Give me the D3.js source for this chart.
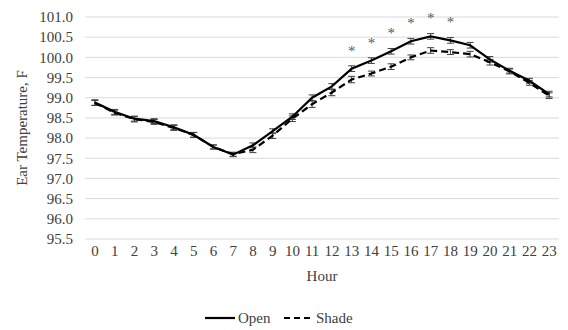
<!DOCTYPE html>
<html>
<head>
<meta charset="utf-8">
<script src="https://cdn.jsdelivr.net/npm/d3@7"></script>
<style>
  body { margin: 0; background: #fff; }
  svg, svg text { font-family: "Liberation Serif", "Times New Roman", serif !important; }
</style>
</head>
<body>
<div id="chart"></div>
<script>
const hours = d3.range(0, 24).map(String)
const openTemp = [98.88, 98.65, 98.48, 98.42, 98.27, 98.08, 97.78, 97.59, 97.82, 98.17, 98.53, 99.0,
  99.28, 99.72, 99.92, 100.15, 100.4, 100.52, 100.42, 100.3, 99.95, 99.67, 99.42, 99.09]
const shadeTemp = [98.87, 98.63, 98.47, 98.4, 98.25, 98.08, 97.78, 97.6, 97.71, 98.06, 98.48, 98.84,
  99.13, 99.45, 99.6, 99.77, 100.0, 100.17, 100.13, 100.08, 99.88, 99.65, 99.37, 99.05]
const openErr = [0.07, 0.06, 0.06, 0.06, 0.06, 0.06, 0.05, 0.05, 0.06, 0.06, 0.07, 0.07,
  0.07, 0.07, 0.07, 0.07, 0.07, 0.07, 0.07, 0.07, 0.07, 0.06, 0.06, 0.07]
const shadeErr = [0.06, 0.06, 0.07, 0.06, 0.06, 0.06, 0.05, 0.05, 0.07, 0.07, 0.07, 0.08,
  0.08, 0.08, 0.06, 0.07, 0.06, 0.07, 0.06, 0.07, 0.07, 0.06, 0.06, 0.07]
const starHours = ["13", "14", "15", "16", "17", "18"]
const yTicks = d3.range(95.5, 101.01, 0.5)

const width = 568
const height = 330
const margin = { top: 17, right: 9, bottom: 91, left: 85 }

const svg = d3.select("#chart")
  .append("svg")
  .attr("width", width)
  .attr("height", height)

const x = d3.scaleBand()
  .domain(hours)
  .range([margin.left, width - margin.right])

const y = d3.scaleLinear()
  .domain([95.5, 101])
  .range([height - margin.bottom, margin.top])

const cx = h => x(h) + x.bandwidth() / 2

// gridlines
svg.append("g")
  .selectAll("line")
  .data(yTicks)
  .enter()
  .append("line")
  .attr("x1", margin.left)
  .attr("x2", width - margin.right)
  .attr("y1", d => y(d))
  .attr("y2", d => y(d))
  .attr("stroke", "#d9d9d9")
  .attr("stroke-width", 1)

const yAxis = svg.append("g")
  .attr("transform", `translate(${margin.left},0)`)
  .call(d3.axisLeft(y).tickValues(yTicks).tickFormat(d3.format(".1f")).tickSize(0).tickPadding(12))
yAxis.attr("font-family", null)
yAxis.select(".domain").remove()
yAxis.selectAll("text")
  .attr("font-size", 15)
  .attr("fill", "#404040")

const xAxis = svg.append("g")
  .attr("transform", `translate(0,${height - margin.bottom})`)
  .call(d3.axisBottom(x).tickSize(0).tickPadding(6))
xAxis.attr("font-family", null)
xAxis.select(".domain").remove()
xAxis.selectAll("text")
  .attr("font-size", 15)
  .attr("fill", "#404040")

svg.append("text")
  .attr("x", (margin.left + width - margin.right) / 2)
  .attr("y", 281)
  .attr("text-anchor", "middle")
  .attr("font-size", 15)
  .attr("fill", "#404040")
  .text("Hour")

svg.append("text")
  .attr("transform", `translate(27,${(margin.top + height - margin.bottom) / 2}) rotate(-90)`)
  .attr("text-anchor", "middle")
  .attr("font-size", 15)
  .attr("fill", "#404040")
  .text("Ear Temperature, F")

const line = d3.line()
  .x((d, i) => cx(hours[i]))
  .y(d => y(d))

function errorBars(values, errs) {
  const g = svg.append("g").attr("stroke", "#404040").attr("stroke-width", 1)
  hours.forEach((h, i) => {
    const top = y(values[i] + errs[i])
    const bot = y(values[i] - errs[i])
    g.append("line").attr("x1", cx(h)).attr("x2", cx(h)).attr("y1", top).attr("y2", bot)
    g.append("line").attr("x1", cx(h) - 3.5).attr("x2", cx(h) + 3.5).attr("y1", top).attr("y2", top)
    g.append("line").attr("x1", cx(h) - 3.5).attr("x2", cx(h) + 3.5).attr("y1", bot).attr("y2", bot)
  })
}

errorBars(shadeTemp, shadeErr)
errorBars(openTemp, openErr)

svg.append("path")
  .datum(shadeTemp)
  .attr("d", line)
  .attr("fill", "none")
  .attr("stroke", "#000")
  .attr("stroke-width", 2.2)
  .attr("stroke-dasharray", "7,4")

svg.append("path")
  .datum(openTemp)
  .attr("d", line)
  .attr("fill", "none")
  .attr("stroke", "#000")
  .attr("stroke-width", 2.2)

// significance marks
svg.append("g")
  .selectAll("text")
  .data(starHours)
  .enter()
  .append("text")
  .attr("x", d => cx(d))
  .attr("y", d => y(openTemp[+d] + 0.52) + 8)
  .attr("text-anchor", "middle")
  .attr("font-size", 15)
  .attr("fill", "#595959")
  .text("*")

// legend
const legend = svg.append("g").attr("transform", "translate(0,318)")
legend.append("line")
  .attr("x1", 205).attr("x2", 235)
  .attr("stroke", "#000").attr("stroke-width", 2.2)
legend.append("text")
  .attr("x", 238).attr("y", 5)
  .attr("font-size", 15).attr("fill", "#404040")
  .text("Open")
legend.append("line")
  .attr("x1", 284).attr("x2", 313)
  .attr("stroke", "#000").attr("stroke-width", 2.2)
  .attr("stroke-dasharray", "6,4")
legend.append("text")
  .attr("x", 316).attr("y", 5)
  .attr("font-size", 15).attr("fill", "#404040")
  .text("Shade")
</script>
</body>
</html>
